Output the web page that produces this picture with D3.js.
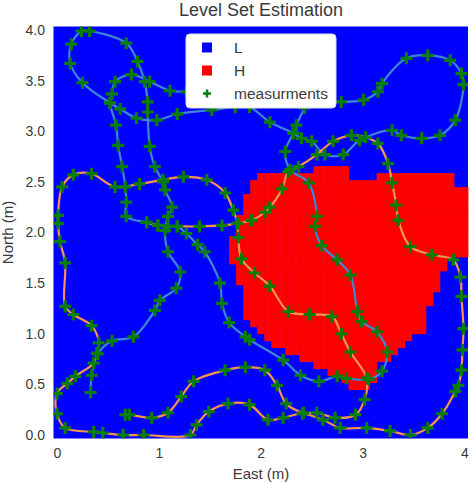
<!DOCTYPE html>
<html><head><meta charset="utf-8">
<script src="https://cdn.jsdelivr.net/npm/d3@7"></script>
<style>body{margin:0;background:#fff}</style>
</head><body>
<svg id="chart" width="474" height="483"></svg>
<script>
// ---------- data ----------
const title = "Level Set Estimation";
const xTicks = [0, 1, 2, 3, 4];
const yTicks = [0, 0.5, 1, 1.5, 2, 2.5, 3, 3.5, 4];
const classes = ["L", "H"];
const gridN = 59;               // grid cells per side, centres spread over 0..4 m
// runs of "H" cells: [row counted from the top, first column, last column]
const highRuns = [
  [20,37,41],[21,29,41],[21,46,56],[22,28,56],[23,28,58],
  [24,27,58],[25,27,58],[26,27,58],[27,26,58],[28,26,58],[29,26,58],
  [30,25,58],[31,25,58],[32,25,58],[33,25,55],[34,26,55],
  [35,26,54],[36,26,54],[37,27,54],[38,27,53],[39,27,53],
  [40,27,52],[41,27,52],[42,28,52],[43,29,52],[44,30,50],
  [45,31,49],[46,33,48],[47,35,47],[48,37,45],[49,39,45],
  [50,41,45],[51,42,44]
];
// robot paths (East, North) in metres; each waypoint is a measurement
const bluePath = [
  [0.33,0.42],[0.34,0.59],[0.40,0.80],[0.54,0.93],[0.75,0.97],[0.96,1.23],[1.01,1.33],
  [1.17,1.45],[1.21,1.61],[1.09,1.81],[1.06,2.02],[1.09,2.16],[1.13,2.25],[1.06,2.42],[1.04,2.50],
  [0.96,2.65],[0.91,2.85],[0.89,3.19],[0.89,3.29],[0.86,3.49],[0.79,3.69],[0.68,3.87],[0.32,3.99],
  [0.24,3.99],[0.14,3.86],[0.13,3.67],[0.25,3.48],[0.52,3.28],[0.62,3.22],[0.78,3.13],[0.98,3.11],
  [1.18,3.17],[1.52,3.21],[1.75,3.24],[1.89,3.24],[2.09,3.09],[2.32,2.98],[2.40,2.93],[2.50,2.90],
  [2.63,2.77],[2.81,2.77],[2.97,2.91],[3.29,3.01],[3.38,2.96],[3.58,2.93],[3.76,2.96],[3.91,3.11],
  [3.99,3.46],[3.97,3.57],[3.86,3.70],[3.64,3.75],[3.43,3.72],[3.19,3.47],[3.15,3.39],[3.01,3.31],
  [2.79,3.29],[2.58,3.31],[2.46,3.28],[2.43,3.23],[2.35,3.06],[2.32,2.98],[2.24,2.80],[2.29,2.62],
  [2.47,2.49],[2.55,2.16],[2.53,2.06],[2.60,1.87],[2.75,1.73],[2.88,1.58],[2.95,1.22],[2.99,1.12],
  [3.14,1.02],[3.24,0.82],[3.19,0.63],[3.06,0.55],[2.84,0.56],[2.75,0.58],[2.57,0.53],[2.39,0.59],
  [2.22,0.74],[1.89,0.94],[1.85,0.97],[1.69,1.11],[1.62,1.30],[1.60,1.50],[1.45,1.81],[1.38,1.88],
  [1.27,1.99],[1.18,2.06],[1.09,2.06],[0.99,2.07],[0.88,2.10],[0.68,2.16],[0.68,2.30],[0.67,2.45],
  [0.64,2.65],[0.60,2.86],[0.58,3.06],[0.52,3.28],[0.54,3.37],[0.57,3.49],[0.73,3.56],[0.91,3.49],
  [1.11,3.40],[1.27,3.39],[1.55,3.39]
];
const orangePath = [
  [0.88,2.10],[0.99,2.07],[1.09,2.06],[1.18,2.06],[1.40,2.06],[1.62,2.07],[1.77,2.09],[1.91,2.12],
  [2.04,2.20],[2.09,2.25],[2.21,2.43],[2.27,2.60],[2.37,2.65],[2.55,2.77],[2.71,2.90],[2.89,2.96],
  [3.03,2.94],[3.15,2.88],[3.25,2.68],[3.29,2.49],[3.33,2.27],[3.35,2.12],[3.47,1.86],[3.68,1.78],
  [3.89,1.73],[3.96,1.56],[3.97,1.37],[3.99,1.05],[3.98,0.84],[3.97,0.64],[3.94,0.49],[3.91,0.43],
  [3.78,0.21],[3.64,0.07],[3.47,0.00],[3.27,0.04],[3.04,0.07],[2.78,0.07],[2.61,0.15],[2.41,0.21],
  [2.22,0.17],[2.07,0.15],[1.89,0.30],[1.68,0.31],[1.49,0.23],[1.37,0.10],[1.31,0.00],[0.85,0.00],
  [0.65,0.00],[0.45,0.02],[0.36,0.03],[0.08,0.07],[0.00,0.21],[0.00,0.41],[0.10,0.51],[0.18,0.58],
  [0.36,0.71],[0.39,0.81],[0.41,0.91],[0.34,1.08],[0.16,1.19],[0.08,1.27],[0.08,1.70],[0.03,1.91],
  [0.01,2.09],[0.01,2.17],[0.05,2.45],[0.16,2.57],[0.34,2.58],[0.57,2.45],[0.81,2.48],[1.04,2.52],
  [1.24,2.55],[1.47,2.52],[1.65,2.39],[1.73,2.22],[1.77,2.09],[1.78,1.95],[1.81,1.74],[1.94,1.60],
  [2.09,1.47],[2.27,1.22],[2.48,1.19],[2.70,1.17],[2.79,1.00],[2.88,0.82],[3.04,0.56],[3.02,0.35],
  [2.93,0.20],[2.73,0.17],[2.55,0.22],[2.42,0.22],[2.25,0.31],[2.16,0.49],[2.04,0.64],[1.85,0.67],
  [1.65,0.64],[1.34,0.53],[1.22,0.38],[1.09,0.22],[0.93,0.17],[0.71,0.20],[0.67,0.20]
];

// ---------- drawing ----------
const svg = d3.select("#chart");
const FONT = "'Liberation Sans', Arial, sans-serif";
const TXT = "#3a3a3a";
const step = 4 / (gridN - 1);
const x = d3.scaleLinear().domain([-step/2, 4 + step/2]).range([53.5, 468]);
const y = d3.scaleLinear().domain([-step/2, 4 + step/2]).range([438.5, 26.5]);
const classColor = d3.scaleOrdinal().domain(classes).range(["#0000ff", "#ff0000"]);

svg.append("text").attr("x", 261).attr("y", 15.5).attr("text-anchor", "middle")
  .attr("font-family", FONT).attr("font-size", 18).attr("fill", TXT).text(title);

// background = class L
svg.append("rect").attr("x", x(-step/2)).attr("y", y(4 + step/2))
  .attr("width", x(4 + step/2) - x(-step/2)).attr("height", y(-step/2) - y(4 + step/2))
  .attr("fill", classColor("L"));

const cells = [];
highRuns.forEach(([r, c0, c1]) => { for (let c = c0; c <= c1; c++) cells.push({row: r, col: c}); });
const cw = x(step) - x(0), ch = y(0) - y(step);
svg.append("g").selectAll("rect").data(cells).join("rect")
  .attr("x", d => x(d.col * step - step/2))
  .attr("y", d => y((gridN - 1 - d.row) * step + step/2))
  .attr("width", cw + 0.4).attr("height", ch + 0.4)
  .attr("fill", classColor("H"));

const line = d3.line().x(d => x(d[0])).y(d => y(d[1])).curve(d3.curveCatmullRom.alpha(0.5));
svg.append("clipPath").attr("id", "pc").append("rect")
  .attr("x", 53.5).attr("y", 26.5).attr("width", 414.5).attr("height", 412);
const g = svg.append("g").attr("clip-path", "url(#pc)");
g.append("path").datum(bluePath).attr("d", line).attr("fill", "none")
  .attr("stroke", "#3d86d4").attr("stroke-width", 2.2);
g.append("path").datum(orangePath).attr("d", line).attr("fill", "none")
  .attr("stroke", "#f7934c").attr("stroke-width", 2.2);
const plus = "M-6,0H6M0,-6V6";
g.selectAll("path.m").data(bluePath.concat(orangePath)).join("path").attr("class", "m")
  .attr("d", plus).attr("transform", d => `translate(${x(d[0])},${y(d[1])})`)
  .attr("stroke", "#0b7d0b").attr("stroke-width", 3.2).attr("fill", "none");

// axes
const xa = svg.append("g").attr("transform", "translate(0,438.5)")
  .call(d3.axisBottom(x).tickValues(xTicks).tickFormat(d3.format("d")).tickSize(0).tickPadding(9.5));
const ya = svg.append("g").attr("transform", "translate(53.5,0)")
  .call(d3.axisLeft(y).tickValues(yTicks).tickFormat(d3.format(".1f")).tickSize(0).tickPadding(8.5));
[xa, ya].forEach(a => {
  a.select(".domain").remove();
  a.selectAll("text").attr("font-family", FONT).attr("font-size", 14).attr("fill", TXT);
});
svg.append("text").attr("x", 261).attr("y", 479).attr("text-anchor", "middle")
  .attr("font-family", FONT).attr("font-size", 15).attr("fill", TXT).text("East (m)");
svg.append("text").attr("transform", "translate(13,232.5) rotate(-90)").attr("text-anchor", "middle")
  .attr("font-family", FONT).attr("font-size", 15).attr("fill", TXT).text("North (m)");

// legend
const lg = svg.append("g");
lg.append("rect").attr("x", 186).attr("y", 34).attr("width", 150).attr("height", 74)
  .attr("rx", 4).attr("fill", "#fff").attr("stroke", "#dddddd");
const items = [...classes.map(c => ({label: c, type: "sq", color: classColor(c)})),
               {label: "measurments", type: "plus", color: "#0b7d0b"}];
items.forEach((it, i) => {
  const cy = 47.5 + i * 23;
  if (it.type === "sq") {
    lg.append("rect").attr("x", 202).attr("y", cy - 5).attr("width", 10).attr("height", 10).attr("fill", it.color);
  } else {
    lg.append("path").attr("d", "M-4,0H4M0,-4V4").attr("transform", `translate(207,${cy})`)
      .attr("stroke", it.color).attr("stroke-width", 2.5);
  }
  lg.append("text").attr("x", 234).attr("y", cy + 5.5).attr("font-family", FONT)
    .attr("font-size", 15.5).attr("fill", TXT).text(it.label);
});
</script>
</body></html>
